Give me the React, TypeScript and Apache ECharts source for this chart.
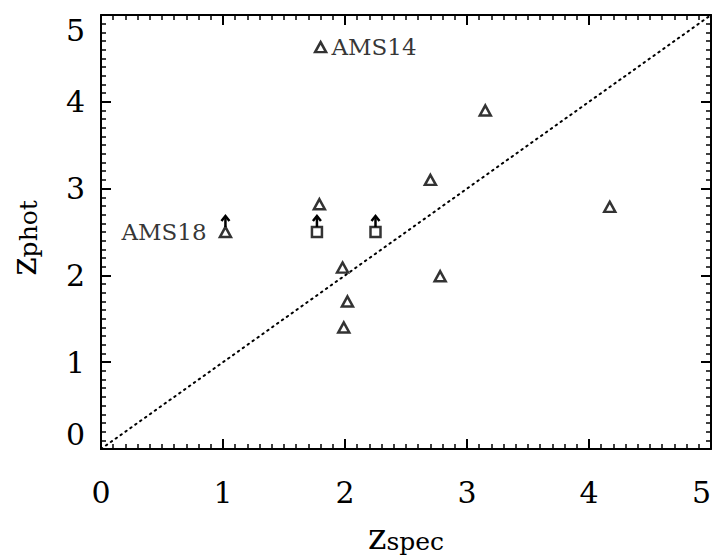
import React, { useEffect, useRef } from "react";
import * as echarts from "echarts";

// Photometric vs spectroscopic redshifts
const triangleX = [1.8, 3.15, 2.7, 2.78, 4.17, 1.79, 1.98, 2.02, 1.99];
const triangleY = [4.63, 3.9, 3.1, 1.99, 2.79, 2.82, 2.09, 1.7, 1.4];
const triangleNames = ["AMS14", "", "", "", "", "", "", "", ""];

// Lower limits on z_phot (drawn with an upward arrow)
const limitTriX = [1.02];
const limitTriY = [2.5];
const limitTriNames = ["AMS18"];
const limitSqX = [1.77, 2.25];
const limitSqY = [2.5, 2.5];

// One-to-one reference line
const diagX = [0, 5];
const diagY = [0, 5];

const xTicks = [0, 1, 2, 3, 4, 5];
const yTicks = [0, 1, 2, 3, 4, 5];

const SERIF = "DejaVu Serif";

function axisCommon(showLabel: boolean, isX: boolean) {
  return {
    min: 0,
    max: 5,
    interval: 1,
    axisLine: { show: true, onZero: false, lineStyle: { color: "#000", width: 2 } },
    axisTick: { show: true, inside: true, length: 10, lineStyle: { color: "#000", width: 2 } },
    minorTick: { show: true, splitNumber: 10, length: 5, lineStyle: { color: "#000", width: 1.5 } },
    splitLine: { show: false },
    minorSplitLine: { show: false },
    axisLabel: {
      show: showLabel,
      color: "#000",
      fontFamily: SERIF,
      fontSize: 30,
      margin: isX ? 28 : 16,
      formatter: (v: number) => (xTicks.includes(v) || yTicks.includes(v) ? String(v) : ""),
      ...(isX
        ? { alignMaxLabel: "right" }
        : { verticalAlignMinLabel: "bottom", verticalAlignMaxLabel: "top" }),
    },
  };
}

const markerStyle = { color: "rgba(0,0,0,0)", borderColor: "#000", borderWidth: 2.5 };
const labelStyle = { color: "#000", fontFamily: SERIF, fontSize: 23 };

export default function App() {
  const ref = useRef<HTMLDivElement>(null);

  useEffect(() => {
    if (!ref.current) return;
    const chart = echarts.init(ref.current, null, { renderer: "svg" });

    const arrowRender = (_params: any, api: any) => {
      const p = api.coord([api.value(0), api.value(1)]);
      const x = p[0];
      const y = p[1];
      return {
        type: "group",
        children: [
          {
            type: "line",
            shape: { x1: x, y1: y - 5, x2: x, y2: y - 16 },
            style: { stroke: "#000", lineWidth: 2.5 },
          },
          {
            type: "polyline",
            shape: { points: [[x - 4, y - 11], [x, y - 16], [x + 4, y - 11]] },
            style: { stroke: "#000", lineWidth: 2.5, fill: null },
          },
        ],
      };
    };

    const limitPoints = [
      ...limitTriX.map((x, i) => [x, limitTriY[i]]),
      ...limitSqX.map((x, i) => [x, limitSqY[i]]),
    ];

    const titleRich = {
      a: { fontFamily: SERIF, fontSize: 35, color: "#000", verticalAlign: "bottom" },
      b: { fontFamily: SERIF, fontSize: 25, color: "#000", verticalAlign: "bottom" },
    };
    const yTitleRich = {
      a: titleRich.a,
      b: { ...titleRich.b, padding: [0, 12, 0, 0] },
    };

    chart.setOption({
      animation: false,
      backgroundColor: "#fff",
      grid: { left: 101, right: 8, top: 15, bottom: 111, outerBoundsMode: "none" },
      xAxis: [
        {
          type: "value",
          position: "bottom",
          ...axisCommon(true, true),
          name: "{a|z}{b|spec}",
          nameLocation: "middle",
          nameGap: 70,
          nameTextStyle: { rich: titleRich },
        },
        { type: "value", position: "top", ...axisCommon(false, true) },
      ],
      yAxis: [
        {
          type: "value",
          position: "left",
          ...axisCommon(true, false),
          name: "{a|z}{b|phot}",
          nameLocation: "middle",
          nameRotate: 90,
          nameGap: 60,
          nameTextStyle: { rich: yTitleRich },
        },
        { type: "value", position: "right", ...axisCommon(false, false) },
      ],
      series: [
        {
          type: "line",
          data: diagX.map((x, i) => [x, diagY[i]]),
          symbol: "none",
          lineStyle: { color: "#000", width: 2, type: [1.5, 4.5], cap: "round" },
          silent: true,
          z: 1,
        },
        {
          type: "scatter",
          symbol: "triangle",
          symbolSize: [11, 10],
          itemStyle: markerStyle,
          data: triangleX.map((x, i) => ({
            value: [x, triangleY[i]],
            label: triangleNames[i]
              ? { show: true, formatter: triangleNames[i], position: "right", distance: 4, ...labelStyle }
              : { show: false },
          })),
          z: 3,
        },
        {
          type: "scatter",
          symbol: "triangle",
          symbolSize: [11, 10],
          itemStyle: markerStyle,
          data: limitTriX.map((x, i) => ({
            value: [x, limitTriY[i]],
            label: { show: true, formatter: limitTriNames[i], position: "left", distance: 12, ...labelStyle },
          })),
          z: 3,
        },
        {
          type: "scatter",
          symbol: "rect",
          symbolSize: 10,
          itemStyle: markerStyle,
          data: limitSqX.map((x, i) => [x, limitSqY[i]]),
          z: 3,
        },
        {
          type: "custom",
          renderItem: arrowRender,
          data: limitPoints,
          silent: true,
          z: 4,
        },
      ],
    });

    return () => chart.dispose();
  }, []);

  return (
    <div
      ref={ref}
      style={{ position: "fixed", left: 0, top: 0, width: 719, height: 560 }}
    />
  );
}
